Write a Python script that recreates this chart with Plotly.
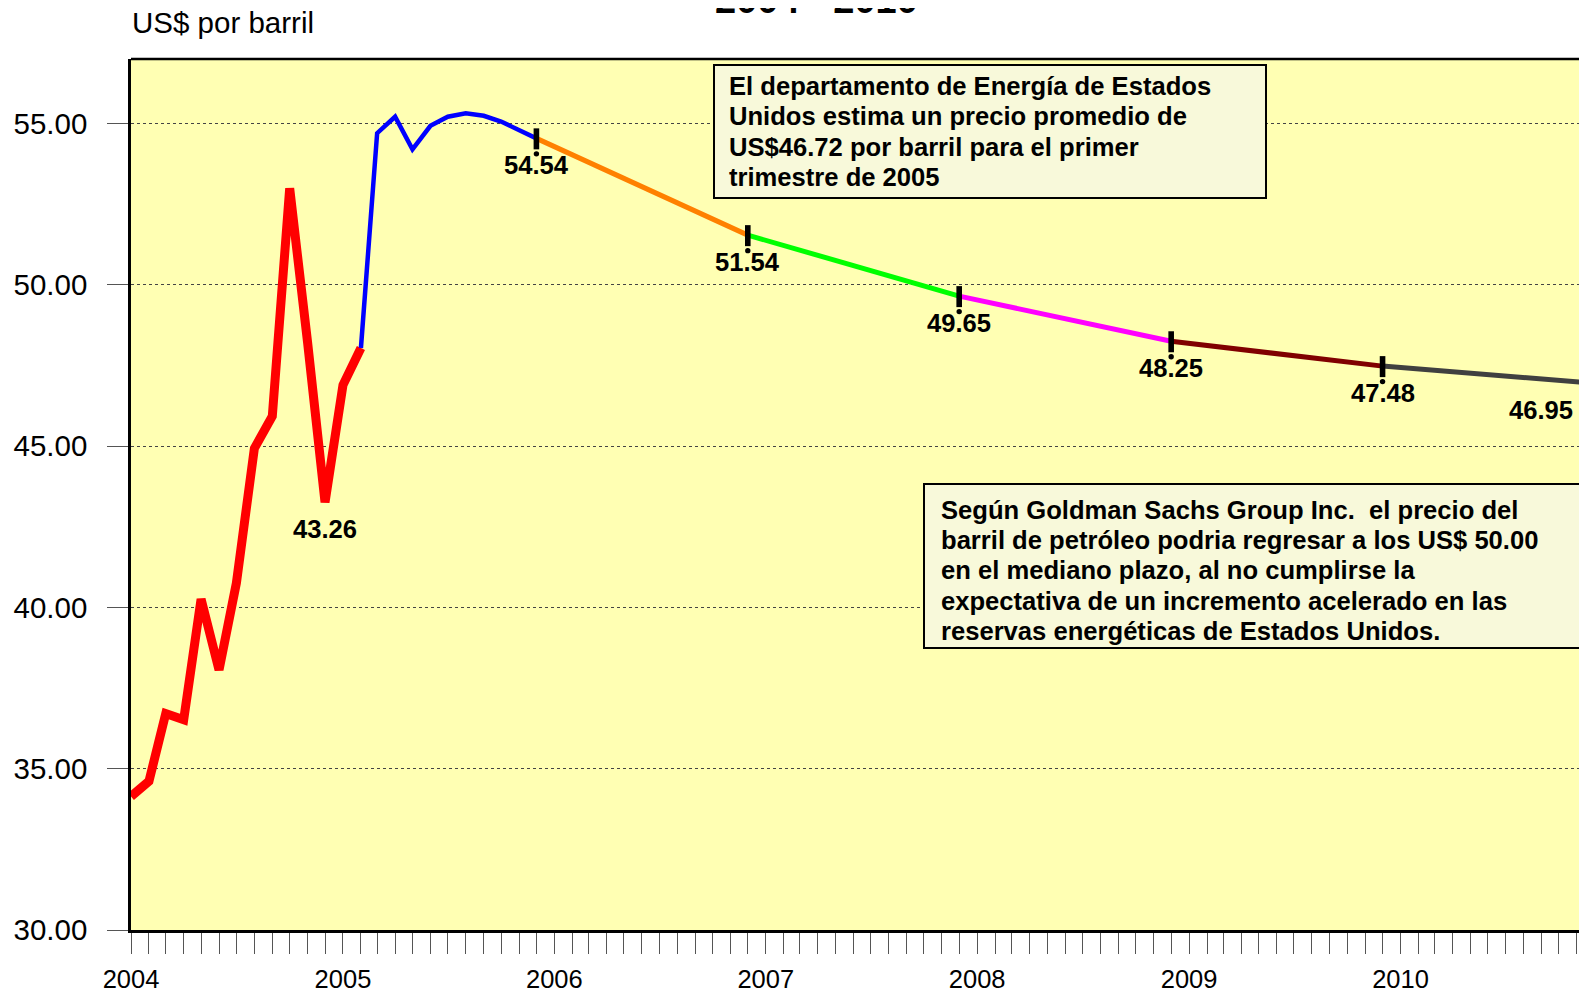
import plotly.graph_objects as go

# ---------------- data ----------------
red_dates = ["2004-01-01", "2004-02-01", "2004-03-01", "2004-04-01", "2004-05-01", "2004-06-01",
             "2004-07-01", "2004-08-01", "2004-09-01", "2004-10-01", "2004-11-01", "2004-12-01",
             "2005-01-01", "2005-02-01"]
red_vals = [34.14, 34.61, 36.71, 36.52, 40.26, 38.06, 40.76, 44.93, 45.93, 52.99, 48.20, 43.26,
            46.89, 48.04]

blue_dates = ["2005-02-01", "2005-03-01", "2005-04-01", "2005-05-01", "2005-06-01", "2005-07-01",
              "2005-08-01", "2005-09-01", "2005-10-01", "2005-11-01", "2005-12-01"]
blue_vals = [48.04, 54.70, 55.21, 54.20, 54.93, 55.21, 55.32, 55.24, 55.06, 54.80, 54.54]

forecast_dates = ["2005-12-01", "2006-12-01", "2007-12-01", "2008-12-01", "2009-12-01", "2010-12-01"]
forecast_vals = [54.54, 51.54, 49.65, 48.25, 47.48, 46.95]
segment_colors = ["#FF8000", "#00FF00", "#FF00FF", "#800000", "#404040"]

y_ticks = [30, 35, 40, 45, 50, 55]

title_text = "2004 - 2010"
unit_text = "US$ por barril"
box1_lines = ["El departamento de Energía de Estados",
              "Unidos estima un precio promedio de",
              "US$46.72 por barril para el primer",
              "trimestre de 2005"]
box2_lines = ["Según Goldman Sachs Group Inc.  el precio del",
              "barril de petróleo podria regresar a los US$ 50.00",
              "en el mediano plazo, al no cumplirse la",
              "expectativa de un incremento acelerado en las",
              "reservas energéticas de Estados Unidos."]

# ---------------- layout geometry ----------------
# page coordinates (the browser adds an 8px body margin)
OFF = 8
W, H = 1587 - OFF, 991 - OFF
L, R, T, B = 131 - OFF, 0, 59 - OFF, 61
PW, PH = W - L - R, H - T - B


def px_x(page_px):
    return (page_px - OFF - L) / PW


def px_y(page_py):
    return (H - B - (page_py - OFF)) / PH


FONT = "Arial, Liberation Sans, sans-serif"
BOLD = dict(family=FONT, size=25.6, color="black", weight="bold")

fig = go.Figure()

fig.add_trace(go.Scatter(x=red_dates, y=red_vals, mode="lines",
                         line=dict(color="#FF0000", width=9), showlegend=False))
fig.add_trace(go.Scatter(x=blue_dates, y=blue_vals, mode="lines",
                         line=dict(color="#0000FF", width=4.5), showlegend=False))
for i, c in enumerate(segment_colors):
    fig.add_trace(go.Scatter(x=forecast_dates[i:i + 2], y=forecast_vals[i:i + 2], mode="lines",
                             line=dict(color=c, width=5), showlegend=False))

annotations = []
shapes = []

# tick bars, dots and value labels at forecast points
for i, (d, v) in enumerate(zip(forecast_dates, forecast_vals)):
    if i < len(forecast_vals) - 1:
        shapes.append(dict(type="rect", xref="x", yref="y", xsizemode="pixel", ysizemode="pixel",
                           xanchor=d, yanchor=v, x0=-2.8, x1=2.8, y0=-11, y1=10,
                           fillcolor="black", line=dict(width=0), layer="above"))
        shapes.append(dict(type="circle", xref="x", yref="y", xsizemode="pixel", ysizemode="pixel",
                           xanchor=d, yanchor=v, x0=-2.7, x1=2.7, y0=-12.8, y1=-18.2,
                           fillcolor="black", line=dict(width=0), layer="above"))
        annotations.append(dict(x=d, y=v, xref="x", yref="y", text=f"{v:.2f}", showarrow=False,
                                yshift=-27, xanchor="center", yanchor="middle", font=BOLD))
    else:
        # last point lies just beyond the right edge; its label sits inside the plot
        annotations.append(dict(x=px_x(1541), y=v, xref="paper", yref="y", text=f"{v:.2f}",
                                showarrow=False, yshift=-27, xanchor="center", yanchor="middle",
                                font=BOLD))

peak_i = red_vals.index(max(red_vals))
trough_i = peak_i + red_vals[peak_i:].index(min(red_vals[peak_i:]))
annotations.append(dict(x=red_dates[trough_i], y=red_vals[trough_i], xref="x", yref="y",
                        text=f"{red_vals[trough_i]:.2f}", showarrow=False, yshift=-27,
                        xanchor="center", yanchor="middle", font=BOLD))

# title and unit
annotations.append(dict(x=px_x(816), y=px_y(0), xref="paper", yref="paper", text=title_text,
                        showarrow=False, xanchor="center", yanchor="middle",
                        font=dict(family=FONT, size=38, color="black", weight="bold")))
annotations.append(dict(x=px_x(130), y=px_y(22), xref="paper", yref="paper", text=unit_text,
                        showarrow=False, xanchor="left", yanchor="middle",
                        font=dict(family=FONT, size=29.5, color="black")))

# text boxes
for k, line in enumerate(box1_lines):
    annotations.append(dict(x=px_x(727), y=px_y(86 + 30.4 * k), xref="paper", yref="paper",
                            text=line, showarrow=False, xanchor="left", yanchor="middle",
                            font=BOLD))
for k, line in enumerate(box2_lines):
    annotations.append(dict(x=px_x(939), y=px_y(510 + 30.2 * k), xref="paper", yref="paper",
                            text=line, showarrow=False, xanchor="left", yanchor="middle",
                            font=BOLD))

shapes += [
    dict(type="rect", xref="paper", yref="paper", x0=px_x(714), x1=px_x(1266),
         y0=px_y(198), y1=px_y(65), fillcolor="#F8F9DA", line=dict(color="black", width=2),
         layer="above"),
    dict(type="rect", xref="paper", yref="paper", x0=px_x(924), x1=px_x(1610),
         y0=px_y(648), y1=px_y(484), fillcolor="#F8F9DA", line=dict(color="black", width=2),
         layer="above"),
    dict(type="line", xref="paper", yref="paper", x0=0, x1=1.02, y0=1, y1=1,
         line=dict(color="black", width=2.5)),
]

fig.update_layout(
    width=W, height=H,
    margin=dict(l=L, r=R, t=T, b=B, pad=0, autoexpand=False),
    paper_bgcolor="white",
    plot_bgcolor="#FFFFB3",
    annotations=annotations,
    shapes=shapes,
    showlegend=False,
)

fig.update_xaxes(
    type="date", range=["2004-01-01", "2010-11-19"],
    dtick="M12", tick0="2004-01-01", tickformat="%Y",
    ticks="outside", ticklen=21, tickwidth=1.2, tickcolor="#555",
    minor=dict(dtick="M1", ticks="outside", ticklen=21, tickwidth=1.2, tickcolor="#555",
               showgrid=False),
    showgrid=False, zeroline=False, automargin=False,
    showline=True, linecolor="black", linewidth=2.5,
    tickfont=dict(family=FONT, size=25.5, color="black"),
    ticklabelstandoff=4,
)
fig.update_yaxes(
    range=[30, 57], tickvals=y_ticks, tickformat=".2f",
    ticks="outside", ticklen=21, tickwidth=1.2, tickcolor="#555",
    showgrid=True, gridcolor="#444", gridwidth=1, griddash="3px,3px",
    zeroline=False, automargin=False,
    showline=True, linecolor="black", linewidth=2.5,
    tickfont=dict(family=FONT, size=29.5, color="black"),
    ticklabelstandoff=14,
)

fig.write_html("out.html")
